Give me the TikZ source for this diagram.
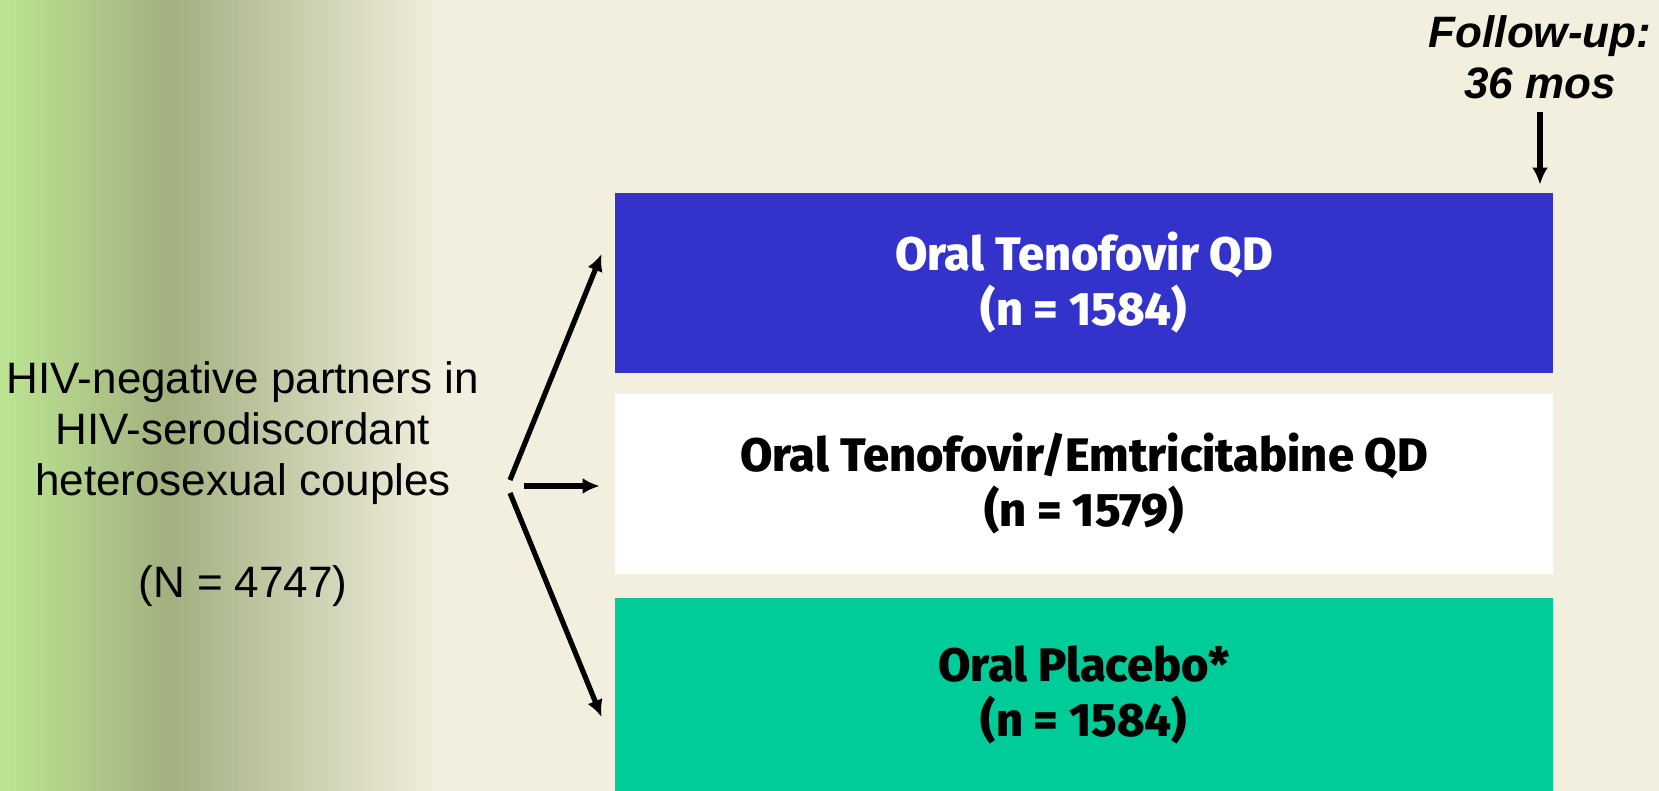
\documentclass[tikz,border=0pt]{standalone}
\usepackage{fontspec}
\setmainfont{Liberation Sans}
\newfontfamily\armfont{Fira Sans}[BoldFont={Fira Sans ExtraBold}]
\usetikzlibrary{arrows.meta, positioning, calc}
\definecolor{armblue}{HTML}{3333CC}
\definecolor{armgreen}{HTML}{00CC99}
\definecolor{bgbeige}{HTML}{F3EFDF}
\definecolor{bggreen}{HTML}{BCE592}
\definecolor{bgolive}{HTML}{A2B080}

\begin{document}
\begin{tikzpicture}[
    x=0.5pt, y=-0.5pt,
    arm/.style={rectangle, minimum width=469pt, minimum height=90pt, inner sep=0pt, align=center, font=\armfont\bfseries\fontsize{23.5}{27.5}\selectfont},
    arr/.style={-{Latex[length=8.5pt,width=8pt]}, line width=2.6pt},
]

% Background
\useasboundingbox (0,0) rectangle (1659,791);
\fill[bgbeige] (0,0) rectangle (1659,791);
\shade[left color=bggreen, right color=bgolive] (0,0) rectangle (170,791);
\shade[left color=bgolive, right color=bgbeige] (170,0) rectangle (440,791);

% Participants
\node[align=center, font=\fontsize{22}{25.5}\selectfont] (pop) at (243,484) {HIV-negative partners in\\HIV-serodiscordant\\heterosexual couples\\[25.5pt](N = 4747)};

% Study arms
\node[arm, fill=armblue, text=white] (tdf) at (1084,283) {Oral Tenofovir QD\\(n = 1584)};
\node[arm, fill=white] (ftc) at (1084,484) {Oral Tenofovir/Emtricitabine QD\\(n = 1579)};
\node[arm, fill=armgreen, minimum height=96.5pt] (plc) at (1084,694.5) {Oral Placebo*\\(n = 1584)};

% Follow-up
\node[align=center, font=\bfseries\itshape\fontsize{22}{25.5}\selectfont] (fu) at (1540,57) {Follow-up:\\36 mos};

% Randomization arrows
\coordinate (forkA) at (510,480);
\coordinate (forkB) at (510,493);
\coordinate (forkC) at (524,486);
\draw[arr] (forkA) -- ($(tdf.west)+(-13,-29)$);
\draw[arr] (forkC) -- ($(ftc.west)+(-15,2)$);
\draw[arr] (forkB) -- ($(plc.west)+(-13,22.5)$);
\draw[arr] ([yshift=-3pt]fu.south) -- ($(fu.south |- tdf.north)+(0,-8)$);

\end{tikzpicture}
\end{document}
